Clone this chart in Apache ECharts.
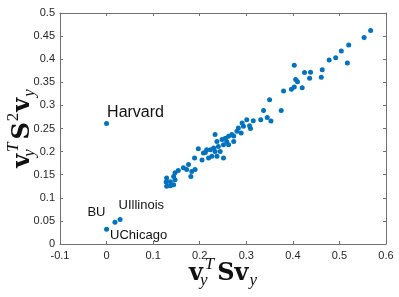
<!DOCTYPE html>
<html>
<head>
<meta charset="utf-8">
<script src="https://cdn.jsdelivr.net/npm/echarts@6/dist/echarts.min.js"></script>
<style>
html,body{margin:0;padding:0;background:#fff;}
#c{width:399px;height:297px;}
</style>
</head>
<body>
<div id="c"></div>
<script>
// ---- data ----
var xVals = [
  0.567,0.553,0.520,0.504,0.492,0.478,0.517,0.463,0.461,0.438,0.425,0.436,0.403,0.406,0.410,0.403,0.397,0.420,0.380,0.350,0.337,0.375,0.345,0.353,0.331,
  0.315,0.301,0.291,0.307,0.294,0.309,0.283,0.280,0.289,0.269,0.273,0.262,0.255,0.248,0.233,0.237,0.258,0.273,0.251,0.262,0.240,0.230,0.223,0.233,0.244,0.197,0.212,0.226,0.237,0.219,0.251,0.205,
  0.215,0.208,0.189,0.176,0.165,0.172,0.183,0.181,0.154,0.147,0.144,0.147,0.129,0.128,0.137,0.129,0.144,0.137,0.190
];
var yVals = [
  0.462,0.447,0.431,0.418,0.403,0.398,0.392,0.377,0.361,0.372,0.371,0.359,0.387,0.356,0.351,0.340,0.335,0.338,0.331,0.312,0.289,0.289,0.274,0.266,0.269,
  0.267,0.269,0.262,0.256,0.255,0.250,0.251,0.244,0.240,0.237,0.234,0.233,0.229,0.226,0.237,0.222,0.222,0.222,0.215,0.215,0.211,0.208,0.204,0.200,0.200,0.206,0.198,0.190,0.190,0.186,0.186,0.182,
  0.204,0.197,0.186,0.172,0.165,0.161,0.157,0.146,0.159,0.154,0.146,0.139,0.143,0.134,0.135,0.125,0.128,0.126,0.161
];
var namedSchools = ['Harvard','BU','UIllinois','UChicago'];
var namedX = [0.000, 0.018, 0.029, 0.000];
var namedY = [0.261, 0.047, 0.053, 0.032];
var xTicks = ['-0.1','0','0.1','0.2','0.3','0.4','0.5','0.6'];
var yTicks = ['0','0.05','0.1','0.15','0.2','0.25','0.3','0.35','0.4','0.45','0.5'];

// ---- chart ----
var xMin = -0.1, xMax = 0.6, xStep = 0.1;
var yMin = 0, yMax = 0.5, yStep = 0.05;
function xFmt(v){ var i = Math.round((v - xMin)/xStep); return xTicks[i] || ''; }
function yFmt(v){ var i = Math.round((v - yMin)/yStep); return yTicks[i] || ''; }

var mainData = xVals.map(function(x,i){ return [x, yVals[i]]; });

var labelStyles = {
  'Harvard':  {position:[3,-8],  align:'left',  verticalAlign:'middle', fontSize:16},
  'BU':       {position:[-7,-7], align:'right', verticalAlign:'middle', fontSize:13},
  'UIllinois':{position:[1,-12], align:'left',  verticalAlign:'middle', fontSize:13},
  'UChicago': {position:[6,9],   align:'left',  verticalAlign:'middle', fontSize:13}
};
var namedData = namedSchools.map(function(n,i){
  var s = labelStyles[n];
  return {
    value:[namedX[i], namedY[i]], name:n,
    label:{show:true, formatter:n, position:s.position, align:s.align, verticalAlign:s.verticalAlign,
           fontSize:s.fontSize, fontFamily:'Liberation Sans', color:'#111'}
  };
});

var axisCol = '#707070';
var labelFont = {fontFamily:'Liberation Sans', fontSize:11, color:'#262626'};
var mathRich = {
  b:   {fontFamily:'DejaVu Serif', fontWeight:'bold', fontSize:24, color:'#111'},
  subz:{fontFamily:'Liberation Serif', fontStyle:'italic', fontSize:17, color:'#111', width:0, padding:[15,0,0,1]},
  sub: {fontFamily:'Liberation Serif', fontStyle:'italic', fontSize:17, color:'#111', padding:[15,0,0,1]},
  sup: {fontFamily:'Liberation Serif', fontStyle:'italic', fontSize:17, color:'#111', padding:[0,3,18,1]},
  supn:{fontFamily:'Liberation Serif', fontSize:17, color:'#111', padding:[0,1,18,1]}
};

function xAxisCfg(pos, showLabel){
  return {
    type:'value', position:pos, min:xMin, max:xMax, interval:xStep,
    axisLine:{show:true, onZero:false, lineStyle:{color:axisCol, width:1}},
    axisTick:{show:true, inside:true, length:3, lineStyle:{color:axisCol}},
    axisLabel:Object.assign({show:showLabel, margin:6, formatter:xFmt}, labelFont),
    splitLine:{show:false}
  };
}
function yAxisCfg(pos, showLabel){
  return {
    type:'value', position:pos, min:yMin, max:yMax, interval:yStep,
    axisLine:{show:true, onZero:false, lineStyle:{color:axisCol, width:1}},
    axisTick:{show:true, inside:true, length:3, lineStyle:{color:axisCol}},
    axisLabel:Object.assign({show:showLabel, margin:5, formatter:yFmt}, labelFont),
    splitLine:{show:false}
  };
}

var xa0 = xAxisCfg('bottom', true);
xa0.name = '{b|v}{subz|y}{sup|T}{b|Sv}{sub|y}';
xa0.nameLocation = 'middle';
xa0.nameGap = 12;
xa0.nameMoveOverlap = false;
xa0.nameTextStyle = {rich:mathRich, align:'center', verticalAlign:'top'};
var ya0 = yAxisCfg('left', true);
ya0.name = '{b|v}{subz|y}{sup|T}{b|S}{supn|2}{b|v}{sub|y}';
ya0.nameLocation = 'middle';
ya0.nameRotate = 90;
ya0.nameGap = 20;
ya0.nameMoveOverlap = false;
ya0.nameTextStyle = {rich:mathRich, align:'center', verticalAlign:'bottom'};

var chart = echarts.init(document.getElementById('c'), null, {renderer:'canvas'});
chart.setOption({
  animation:false,
  backgroundColor:'#fff',
  grid:{left:60, right:13, top:13, bottom:53, containLabel:false, outerBoundsMode:'none'},
  xAxis:[xa0, xAxisCfg('top', false)],
  yAxis:[ya0, yAxisCfg('right', false)],
  series:[
    {type:'scatter', xAxisIndex:0, yAxisIndex:0, data:mainData, symbol:'circle', symbolSize:5,
     itemStyle:{color:'#0072BD', opacity:1}},
    {type:'scatter', xAxisIndex:0, yAxisIndex:0, data:namedData, symbol:'circle', symbolSize:5,
     itemStyle:{color:'#0072BD', opacity:1}}
  ]
});
</script>
</body>
</html>
